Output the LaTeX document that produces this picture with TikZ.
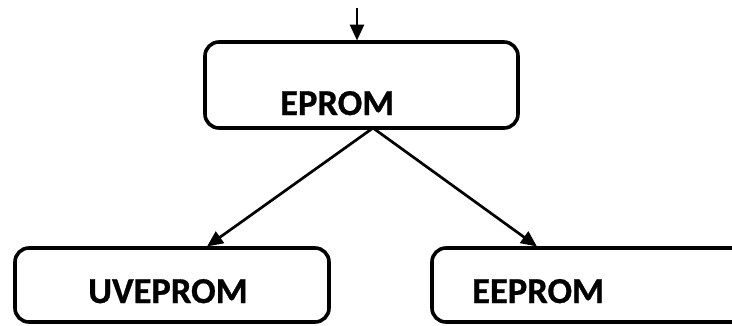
\documentclass[tikz,border=0pt]{standalone}
\usepackage{fontspec}
\setmainfont{Carlito}[BoldFeatures={FakeBold=0.8}]
\usetikzlibrary{arrows.meta}
\begin{document}
\begin{tikzpicture}[x=1pt,y=-1pt,
  memblock/.style={draw=black, line width=3.6pt, rounded corners=14pt},
  memlabel/.style={anchor=base west, inner sep=0pt, font=\bfseries\fontsize{36.5}{36}\selectfont},
  flow/.style={line width=2.7pt, -{Triangle[length=16pt,width=14pt]}}]
  \useasboundingbox (0,0) rectangle (732,325);
  % blocks
  \node[memblock, minimum width=313pt, minimum height=86pt] (eprom) at (361.5,85) {};
  \node[memblock, minimum width=314pt, minimum height=74pt] (uv) at (172,285) {};
  \node[memblock, minimum width=314pt, minimum height=74pt] (ee) at (589,285) {};
  % labels
  \node[memlabel] (teprom) at (280,115) {EPROM};
  \node[memlabel] (tuv) at (88,303) {UVEPROM};
  \node[memlabel] (tee) at (472,303) {EEPROM};
  % connectors
  \coordinate (in) at (357,8);
  \coordinate (split) at (373,128);
  \draw[flow] (in) -- (357,40.5);
  \draw[flow] (split) -- (207,246.5);
  \draw[flow] (split) -- (537,246.5);
\end{tikzpicture}
\end{document}
